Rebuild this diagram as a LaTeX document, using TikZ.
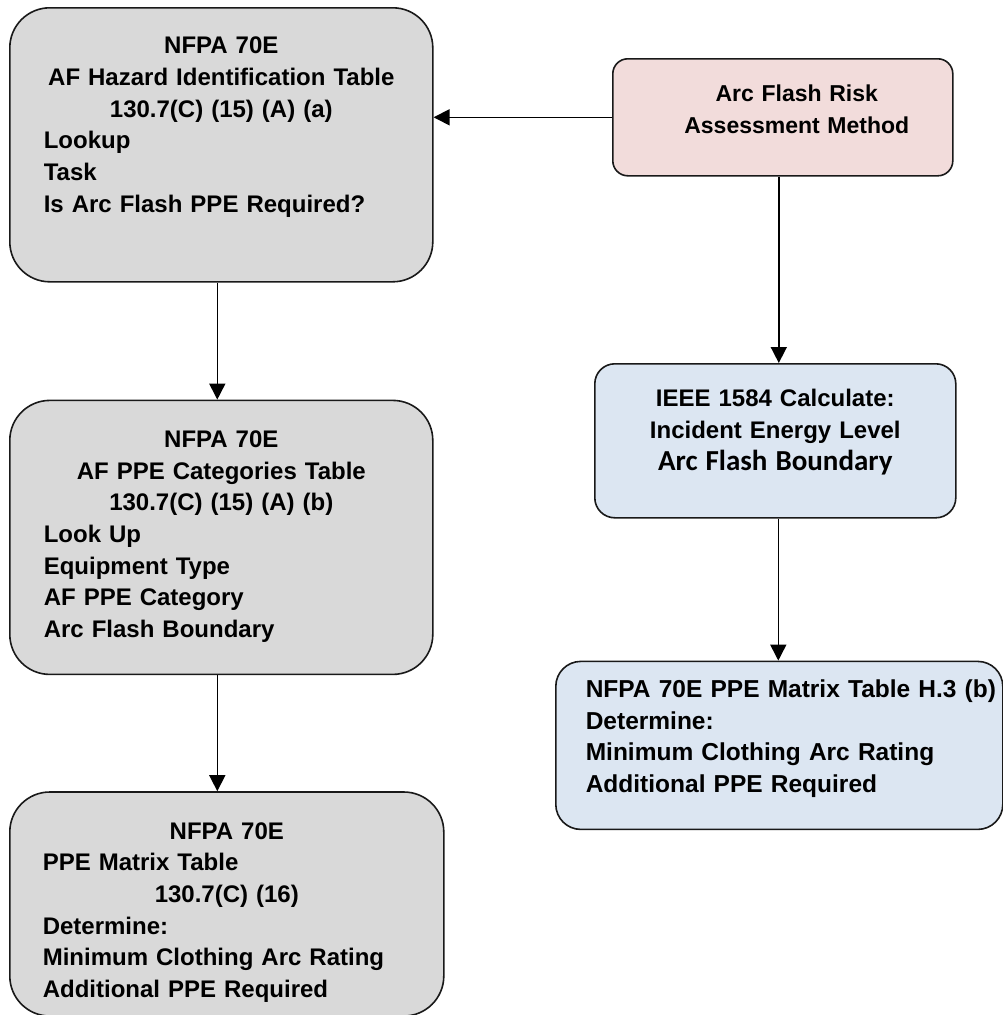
\documentclass[tikz,border=0pt]{standalone}
\usepackage{fontspec}
\setmainfont{Liberation Sans}
\newfontfamily\calibrifont{Carlito}
\usepackage{tikz}
\usetikzlibrary{positioning, arrows.meta}

\definecolor{boxgray}{HTML}{D9D9D9}
\definecolor{boxred}{HTML}{F2DCDB}
\definecolor{boxblue}{HTML}{DCE6F2}

\newcommand{\ctrline}[1]{\makebox[\linewidth]{#1}}

\begin{document}
\begin{tikzpicture}[x=1pt, y=1pt,
    every node/.style={font=\bfseries\fontsize{24}{31.7}\selectfont},
    flowbox/.style={draw=black!90, line width=1.6pt, inner ysep=0pt},
    graybox/.style={flowbox, fill=boxgray, rounded corners=40pt, align=left, inner xsep=34pt, text width=355pt},
    redbox/.style={flowbox, fill=boxred, rounded corners=15pt, align=center, inner xsep=20pt, text width=300pt},
    bluebox/.style={flowbox, fill=boxblue, rounded corners=20pt, align=center, inner xsep=20pt, text width=321pt},
    flow/.style={-{Triangle[length=16pt, width=16pt]}, line width=1.6pt}
    ]
    \useasboundingbox (0,0) rectangle (1003,-1015);

    \node[graybox, anchor=north west, text height=46pt, text depth=228pt] (hazard) at (9,-7)
        {\ctrline{NFPA 70E}\\
         \ctrline{AF Hazard Identification Table}\\
         \ctrline{130.7(C) (15) (A) (a)}\\
         Lookup\\
         Task\\
         Is Arc Flash PPE Required?};
    \node[graybox, below=117pt of hazard, text height=47pt, text depth=227pt] (categories)
        {\ctrline{NFPA 70E}\\
         \ctrline{AF PPE Categories Table}\\
         \ctrline{130.7(C) (15) (A) (b)}\\
         Look Up\\
         Equipment Type\\
         AF PPE Category\\
         Arc Flash Boundary};
    \node[graybox, below=116pt of categories.south west, anchor=north west, inner xsep=33pt, text width=368pt,
          text height=47pt, text depth=177pt] (ppematrix)
        {\ctrline{NFPA 70E}\\
         PPE Matrix Table\\
         \ctrline{130.7(C) (16)}\\
         Determine:\\
         Minimum Clothing Arc Rating\\
         Additional PPE Required};

    \node[redbox, font=\bfseries\fontsize{23}{32}\selectfont, anchor=north west, text height=43pt, text depth=74pt] (method) at (612,-58)
        {\hspace*{28pt}Arc Flash Risk\\
         \hspace*{28pt}Assessment Method};
    \node[bluebox, anchor=north west, text height=43pt, text depth=111pt] (calculate) at (594,-363)
        {IEEE 1584 Calculate:\\
         Incident Energy Level\\
         \calibrifont\fontsize{29}{36}\selectfont Arc Flash Boundary};
    \node[bluebox, below=142pt of calculate.south west, anchor=north west, xshift=-39pt, rounded corners=25pt,
          align=left, inner xsep=30pt, text width=387pt, text height=36pt, text depth=132pt,
          font=\bfseries\fontsize{24.5}{31.7}\selectfont] (tableh3)
        {\mbox{NFPA 70E PPE Matrix Table H.3 (b)}\\
         Determine:\\
         Minimum Clothing Arc Rating\\
         Additional PPE Required};

    \draw[flow] (method.west) -- (method.west -| hazard.east);
    \draw[flow] ([xshift=-4pt]hazard.south) -- ([xshift=-4pt]categories.north);
    \draw[flow] ([xshift=-4pt]categories.south) -- ([xshift=-4pt]categories.south |- ppematrix.north);
    \draw[flow] ([xshift=-4pt]method.south) -- ([xshift=-4pt]method.south |- calculate.north);
    \draw[flow] ([xshift=3pt]calculate.south) -- ([xshift=3pt]calculate.south |- tableh3.north);

\end{tikzpicture}
\end{document}
